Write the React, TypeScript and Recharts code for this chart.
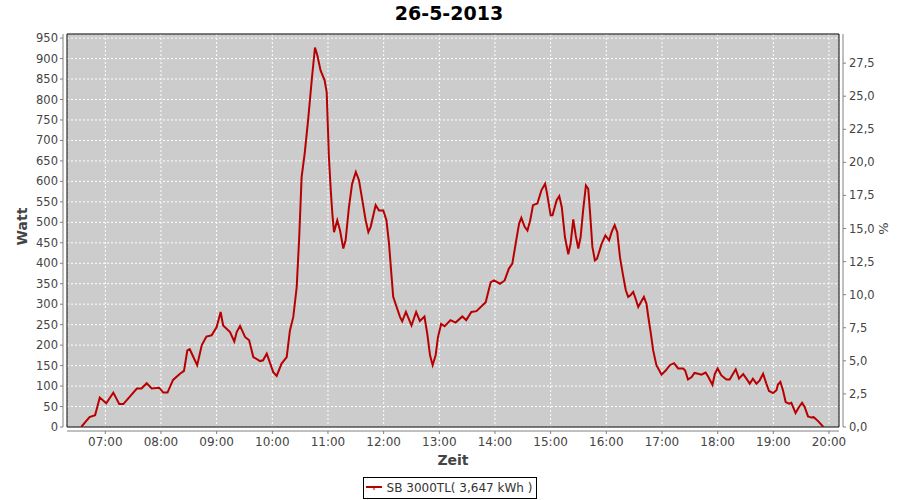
import {
  LineChart,
  Line,
  XAxis,
  YAxis,
  CartesianGrid,
  ReferenceArea,
  Legend,
} from "recharts";

// minutes since midnight
const times = [
  394, 403, 409, 411, 414, 421, 428.6, 435, 439.4, 454, 459, 464.6, 470, 478, 482.5, 487, 493,
  500.5, 504.8, 508.4, 511, 519, 524, 529, 534.6, 540, 544.3, 547, 554.4, 559, 561.6, 565.2,
  570.6, 575, 579.5, 586.7, 590, 594, 601, 604.7, 610, 615.5, 619, 622.6, 626.3, 629, 631.6,
  635, 638.8, 642.8, 646, 648.5, 652, 656.4, 658.6, 661, 663, 664.7, 666.5, 670, 673, 676.5,
  679, 682.6, 686, 690, 693.4, 697, 700.6, 703.5, 706, 711.4, 715, 719.6, 723, 725.8, 728,
  730.3, 734, 737.6, 740, 744, 750, 755, 759, 764, 767, 770, 772.8, 776, 778.6, 782, 785.8,
  792, 797.6, 804.8, 809, 814.5, 820, 830, 835.4, 839, 845.4, 850.4, 855, 858.7, 862.3, 866,
  868.4, 872, 875, 878, 881, 885.7, 890, 894, 896, 900, 902, 906.5, 909.3, 912, 915.4, 919,
  921.5, 924.4, 927, 929.8, 932.3, 935, 938, 940.5, 942.3, 945, 947.7, 950, 955, 959, 963,
  965.7, 969, 971.8, 974.7, 978, 981, 983.6, 986, 989, 991.5, 994.4, 998, 1000.5, 1003.3,
  1005, 1008, 1010.5, 1014, 1019.5, 1024, 1028.5, 1033, 1037.4, 1042.8, 1045, 1048, 1052,
  1055, 1059, 1062.5, 1067, 1070, 1074.4, 1077, 1080, 1084, 1089.5, 1093, 1096.6, 1099.5,
  1103, 1107.5, 1111, 1114.6, 1118, 1121.8, 1125.3, 1129, 1132.5, 1135.4, 1139.8, 1143.4,
  1145, 1147.6, 1150.4, 1153.3, 1157, 1159.4, 1164, 1167.7, 1171, 1173.8, 1177.4, 1181,
  1183.5, 1188, 1194,
];

const watts = [
  0, 24, 29, 46, 72, 58, 84, 56, 56, 94, 94, 107, 94, 96, 84, 84, 115,
  130, 137, 187, 190, 151, 200, 221, 224, 244, 281, 248, 232, 209, 232, 247,
  220, 212, 171, 161, 163, 179, 134, 125, 155, 171, 236, 269, 342, 464, 611,
  670, 755, 855, 927, 908, 871, 847, 818, 660, 578, 521, 476, 505, 480, 436,
  456, 537, 594, 623, 603, 554, 505, 476, 489, 542, 529, 529, 505, 448, 383,
  318, 293, 269, 258, 281, 248, 281, 259, 270, 228, 175, 151, 175, 220, 252, 246,
  261, 255, 270, 261, 281, 283, 305, 354, 358, 350, 358, 387, 399, 448, 497,
  511, 489, 480, 505, 542, 546, 578, 594, 572, 517, 517, 554, 564, 537, 464, 422,
  448, 507, 468, 436, 464, 529, 590, 582, 529, 440, 407, 411, 448, 468, 456,
  476, 493, 476, 415, 371, 334, 318, 322, 330, 314, 293, 308, 318, 301,
  273, 228, 187, 151, 128, 138, 151, 156, 143, 143, 138, 116, 122,
  132, 130, 128, 133, 122, 103, 130, 143, 126, 116, 116, 130, 141,
  118, 129, 118, 106, 118, 106, 114, 130, 106, 88, 83, 90,
  104, 110, 90, 61, 57, 59, 34, 49, 59, 49, 26, 23,
  24, 15, 0,
];

const hourTicks = [420, 480, 540, 600, 660, 720, 780, 840, 900, 960, 1020, 1080, 1140, 1200];
const wattTicks = [0, 50, 100, 150, 200, 250, 300, 350, 400, 450, 500, 550, 600, 650, 700, 750, 800, 850, 900, 950];
const pctTicks = [0, 2.5, 5, 7.5, 10, 12.5, 15, 17.5, 20, 22.5, 25, 27.5];

const data = times.map((t, i) => ({ t, w: watts[i] }));

const XMIN = 378.7;
const XMAX = 1210.8;
const RED = "#b80000";
const AXIS = "#808080";
const TXT = "#444444";
const FONT = "'DejaVu Sans', sans-serif";

const fmtHour = (m: number) => {
  const h = Math.floor(m / 60);
  const mm = m % 60;
  return `${h < 10 ? "0" : ""}${h}:${mm < 10 ? "0" : ""}${mm}`;
};

const LeftTick = (props: any) => {
  const { x, y, payload } = props;
  return (
    <g>
      <line x1={x - 7} x2={x - 4} y1={y} y2={y} stroke={AXIS} />
      <text x={x - 9} y={y} dy={4} textAnchor="end" fill={TXT} fontSize={11.5} fontFamily={FONT}>
        {payload.value}
      </text>
    </g>
  );
};

const RightTick = (props: any) => {
  const { x, y, payload } = props;
  return (
    <g>
      <line x1={x + 4} x2={x + 7} y1={y} y2={y} stroke={AXIS} />
      <text x={x + 10} y={y} dy={4} textAnchor="start" fill={TXT} fontSize={11.5} fontFamily={FONT}>
        {payload.value.toFixed(1).replace(".", ",")}
      </text>
    </g>
  );
};

const BottomTick = (props: any) => {
  const { x, y, payload } = props;
  return (
    <g>
      <line x1={x} x2={x} y1={y + 4} y2={y + 7} stroke={AXIS} />
      <text x={x} y={y + 19} textAnchor="middle" fill={TXT} fontSize={12} fontFamily={FONT}>
        {fmtHour(payload.value)}
      </text>
    </g>
  );
};

const wattLabel = (props: any) => {
  const { x, y, height } = props.viewBox;
  const cx = x + 22;
  const cy = y + height / 2 - 4;
  return (
    <text x={cx} y={cy} transform={`rotate(-90 ${cx} ${cy})`} textAnchor="middle" dy={5}
      fill={TXT} fontSize={14} fontWeight="bold" fontFamily={FONT}>
      Watt
    </text>
  );
};

const pctLabel = (props: any) => {
  const { x, y, height } = props.viewBox;
  const cx = x + 44;
  const cy = y + height / 2 - 2;
  return (
    <text x={cx} y={cy} transform={`rotate(-90 ${cx} ${cy})`} textAnchor="middle" dy={5}
      fill={TXT} fontSize={13} fontFamily={FONT}>
      %
    </text>
  );
};

const zeitLabel = (props: any) => {
  const { x, y, width } = props.viewBox;
  return (
    <text x={x + width / 2} y={y + 38} textAnchor="middle" fill={TXT} fontSize={14}
      fontWeight="bold" fontFamily={FONT}>
      Zeit
    </text>
  );
};

const LegendBox = () => (
  <div style={{ display: "flex", justifyContent: "center" }}>
    <div
      style={{
        border: "1px solid #000",
        height: 20,
        display: "flex",
        alignItems: "center",
        padding: "0 4px 0 2px",
        fontFamily: FONT,
        fontSize: 12,
        color: "#333",
        background: "#fff",
      }}
    >
      <svg width={16} height={8}>
        <line x1={0} x2={16} y1={3} y2={3} stroke={RED} strokeWidth={2} />
        <line x1={8} x2={8} y1={3} y2={6} stroke={RED} strokeWidth={1} />
      </svg>
      <span style={{ marginLeft: 5 }}>SB 3000TL( 3,647 kWh )</span>
    </div>
  </div>
);

export default function App() {
  return (
    <div style={{ position: "absolute", left: 0, top: 0, width: 900, height: 500, background: "#fff" }}>
      <div
        style={{
          position: "absolute",
          top: 2,
          left: 0,
          width: 898,
          textAlign: "center",
          fontFamily: FONT,
          fontWeight: "bold",
          fontSize: 19,
          lineHeight: "22px",
          color: "#000",
        }}
      >
        26-5-2013
      </div>
      <LineChart width={900} height={500} data={data} margin={{ top: 34, right: 0, bottom: 0, left: 0 }}>
        <CartesianGrid stroke="#ffffff" strokeDasharray="2 2" fill="#cccccc" fillOpacity={1} />
        <XAxis
          dataKey="t"
          type="number"
          domain={[XMIN, XMAX]}
          allowDataOverflow
          ticks={hourTicks}
          interval={0}
          height={51}
          tickSize={0}
          tickMargin={0}
          tickLine={false}
          tick={BottomTick}
          axisLine={{ stroke: AXIS, transform: "translate(0 4)" }}
          label={{ content: zeitLabel }}
        />
        <YAxis
          type="number"
          domain={[0, 960]}
          allowDataOverflow
          ticks={wattTicks}
          interval={0}
          width={67}
          tickSize={0}
          tickMargin={0}
          tickLine={false}
          tick={LeftTick}
          axisLine={{ stroke: AXIS, transform: "translate(-4 0)" }}
          label={{ content: wattLabel }}
        />
        <YAxis
          yAxisId="right"
          orientation="right"
          type="number"
          domain={[0, 29.7]}
          allowDataOverflow
          ticks={pctTicks}
          interval={0}
          width={61}
          tickSize={0}
          tickMargin={0}
          tickLine={false}
          tick={RightTick}
          axisLine={{ stroke: AXIS, transform: "translate(4 0)" }}
          label={{ content: pctLabel }}
        />
        <ReferenceArea x1={XMIN} x2={XMAX} y1={0} y2={960} fill="none" stroke="#000" strokeWidth={1} ifOverflow="visible" />
        <Line
          type="linear"
          dataKey="w"
          stroke={RED}
          strokeWidth={2}
          dot={false}
          isAnimationActive={false}
        />
        <Legend verticalAlign="bottom" content={LegendBox} wrapperStyle={{ bottom: 1 }} />
      </LineChart>
    </div>
  );
}
